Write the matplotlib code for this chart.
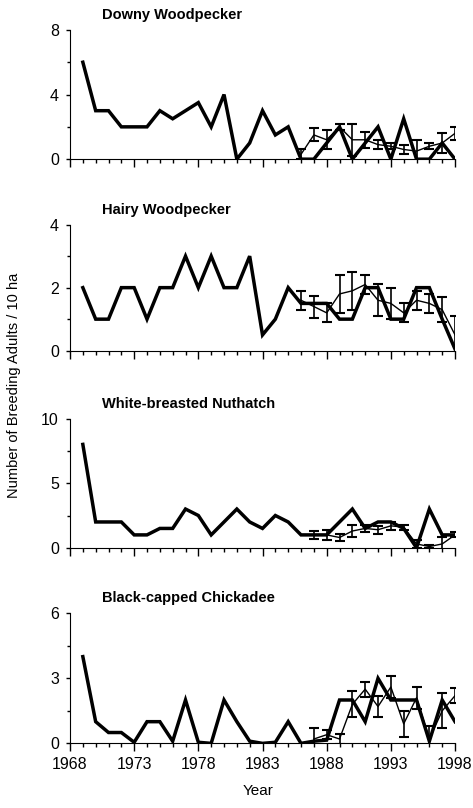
import matplotlib.pyplot as plt
import numpy as np

plt.rcParams['font.family'] = ['Liberation Sans', 'DejaVu Sans']

# Data
years_long = list(range(1969, 1999))
years_short_a = list(range(1986, 1999))
years_short_b = list(range(1987, 1999))

downy_long = [6, 3, 3, 2, 2, 2, 3, 2.5, 3, 3.5, 2, 4, 0, 1, 3, 1.5, 2, 0, 0, 1.0, 2, 0, 1.0, 2, 0, 2.5, 0, 0, 1, 0]
downy_mean = [0.3, 1.5, 1.2, 2.0, 1.2, 1.2, 0.9, 0.8, 0.6, 0.5, 0.8, 1.0, 1.6]
downy_err = [0.3, 0.4, 0.6, 0.2, 1.0, 0.5, 0.3, 0.2, 0.3, 0.7, 0.2, 0.6, 0.4]

hairy_long = [2, 1, 1, 2, 2, 1, 2, 2, 3, 2, 3, 2, 2, 3, 0.5, 1, 2, 1.5, 1.5, 1.5, 1, 1, 2, 2, 1, 1, 2, 2, 1, 0.05]
hairy_mean = [1.6, 1.4, 1.2, 1.8, 1.9, 2.1, 1.6, 1.5, 1.2, 1.6, 1.5, 1.3, 0.5]
hairy_err = [0.3, 0.35, 0.3, 0.6, 0.6, 0.3, 0.5, 0.5, 0.3, 0.3, 0.3, 0.4, 0.6]

nuthatch_long = [8, 2, 2, 2, 1, 1, 1.5, 1.5, 3, 2.5, 1, 2, 3, 2, 1.5, 2.5, 2, 1, 1, 1, 2, 3, 1.5, 2, 2, 1.5, 0, 3, 1, 1]
nuthatch_mean = [1.0, 1.0, 0.8, 1.3, 1.5, 1.4, 1.7, 1.6, 0.3, 0.1, 0.3, 1.0]
nuthatch_err = [0.3, 0.4, 0.3, 0.5, 0.3, 0.3, 0.3, 0.2, 0.3, 0.1, 0.5, 0.2]

chickadee_long = [4, 1, 0.5, 0.5, 0.05, 1, 1, 0.1, 2, 0.05, 0, 2, 1, 0.1, 0, 0.05, 1, 0, 0.1, 0.15, 2, 2, 1, 3, 2, 2, 2, 0.1, 2, 1]
chickadee_mean = [0.2, 0.4, 0.2, 1.8, 2.5, 1.7, 2.6, 0.9, 2.1, 0.2, 1.5, 2.2]
chickadee_err = [0.5, 0.2, 0.25, 0.6, 0.35, 0.5, 0.5, 0.6, 0.5, 0.6, 0.8, 0.35]

titles = ['Downy Woodpecker', 'Hairy Woodpecker', 'White-breasted Nuthatch', 'Black-capped Chickadee']
longs = [downy_long, hairy_long, nuthatch_long, chickadee_long]
means = [downy_mean, hairy_mean, nuthatch_mean, chickadee_mean]
errs = [downy_err, hairy_err, nuthatch_err, chickadee_err]
short_years = [years_short_a, years_short_a, years_short_b, years_short_b]
ymaxes = [8, 4, 10, 6]

# panel boxes (left, bottom, width, height) in figure fraction
boxes = [
    [0.148, 0.803, 0.814, 0.160],
    [0.148, 0.566, 0.814, 0.156],
    [0.148, 0.322, 0.814, 0.160],
    [0.148, 0.080, 0.814, 0.161],
]

fig = plt.figure(figsize=(4.73, 8.08), dpi=100)

for i in range(4):
    ax = fig.add_axes(boxes[i])
    ax.plot(years_long, longs[i], color='black', linewidth=2.5, solid_joinstyle='miter', zorder=3)
    ax.errorbar(short_years[i], means[i], yerr=errs[i], color='black', linewidth=1.0,
                elinewidth=1.2, capsize=3.5, capthick=1.5, zorder=2)

    ymax = ymaxes[i]
    ax.set_xlim(1968, 1998)
    ax.set_ylim(0, ymax)
    ax.set_yticks([0, ymax / 2, ymax])
    ax.set_yticks([ymax / 4, 3 * ymax / 4], minor=True)
    ax.set_yticklabels(['0', '%g' % (ymax / 2), '%g' % ymax], fontsize=11.5)
    ax.set_xticks(np.arange(1968, 1999, 5))
    ax.set_xticks(np.arange(1968, 1999, 1), minor=True)
    if i == 3:
        ax.set_xticklabels([str(y) for y in range(1968, 1999, 5)], fontsize=11.5)
    else:
        ax.set_xticklabels([])

    ax.tick_params(axis='x', which='major', direction='out', length=6, width=1)
    ax.tick_params(axis='x', which='minor', direction='out', length=3, width=1)
    ax.tick_params(axis='y', which='major', direction='out', length=3, width=1, pad=5)
    ax.tick_params(axis='y', which='minor', direction='out', length=2, width=1)

    ax.spines['top'].set_visible(False)
    ax.spines['right'].set_visible(False)
    ax.patch.set_alpha(0)
    for s in ['left', 'bottom']:
        ax.spines[s].set_clip_on(False)

    ax.text(0.083, 1.06, titles[i], transform=ax.transAxes, fontsize=10.5,
            fontweight='bold', ha='left', va='bottom')

fig.text(0.03, 0.523, 'Number of Breeding Adults / 10 ha', rotation=90,
         ha='center', va='center', fontsize=10.5)
fig.text(0.545, 0.012, 'Year', ha='center', va='bottom', fontsize=11)

plt.savefig('out.png', dpi=100)
print("Saved out.png")
